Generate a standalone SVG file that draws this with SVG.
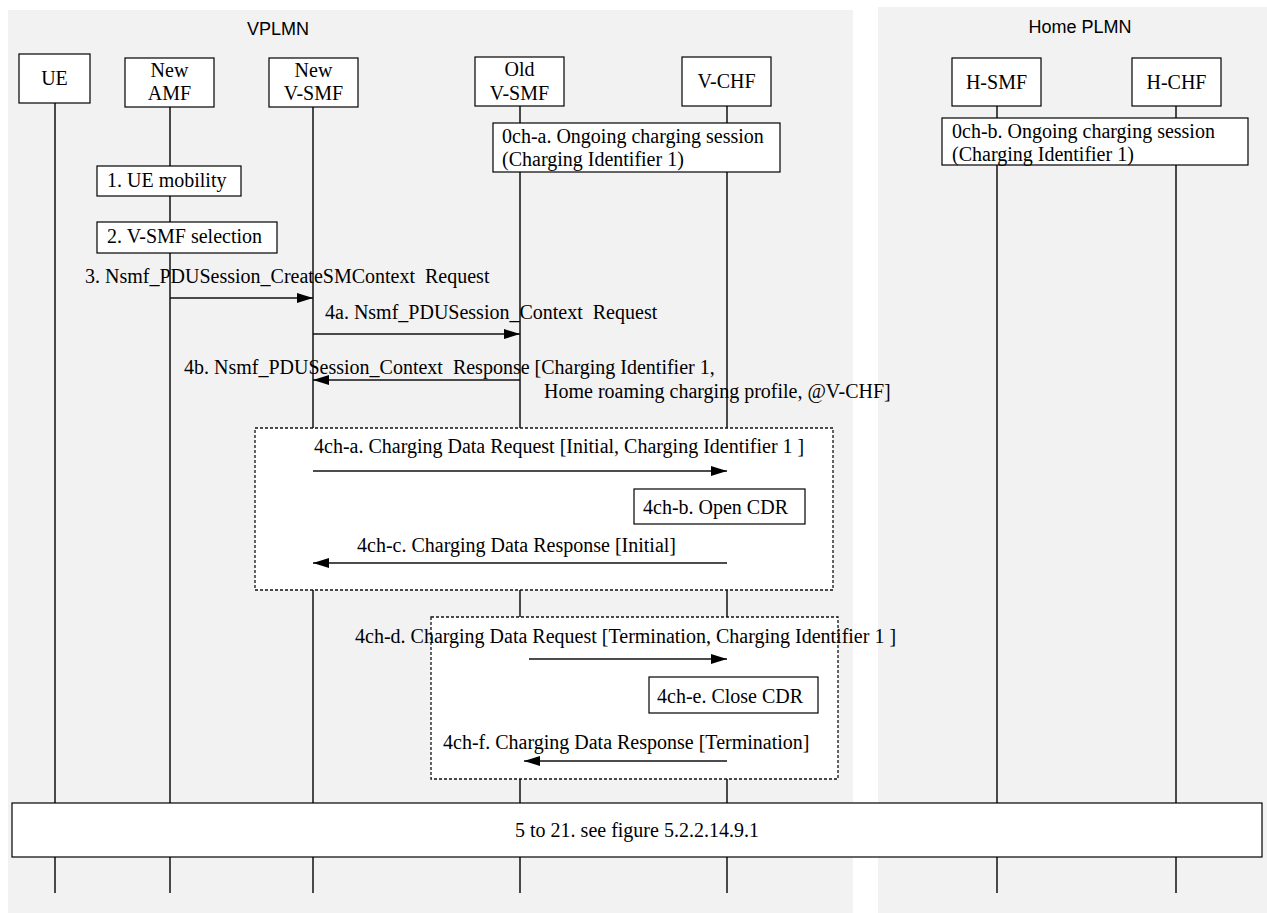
<svg xmlns="http://www.w3.org/2000/svg" width="1267" height="913" viewBox="0 0 1267 913">
<defs>
<style>
.bg{fill:#f2f2f2;stroke:none}
.hdr{font-family:"Liberation Sans",Arial,sans-serif;font-size:18px;fill:#000;text-anchor:middle}
.t{font-family:"Liberation Serif","Times New Roman",serif;font-size:20px;fill:#000;white-space:pre}
.c{text-anchor:middle}
.box{fill:#fff;stroke:#000;stroke-width:1.2}
.frag{fill:#fff;stroke:#111;stroke-width:1.3;stroke-dasharray:3 2}
.life{stroke:#111;stroke-width:1.5;fill:none}
.msg{stroke:#111;stroke-width:1.3;fill:none;marker-end:url(#arr)}
</style>
<marker id="arr" viewBox="0 0 16 10" refX="16" refY="5" markerWidth="16" markerHeight="10" orient="auto" markerUnits="userSpaceOnUse">
<path d="M0,0 L16,5 L0,10 z" fill="#000"/>
</marker>
</defs>
<rect width="1267" height="913" fill="#fff"/>
<g id="vplmn">
<rect class="bg" x="8" y="10" width="845" height="903"/>
<text class="hdr" x="278" y="35">VPLMN</text>
</g>
<g id="hplmn">
<rect class="bg" x="878" y="7" width="389" height="906"/>
<text class="hdr" x="1080" y="33">Home PLMN</text>
</g>
<g id="ue">
<line class="life" x1="55" y1="103" x2="55" y2="893"/>
<rect class="box" x="19" y="54" width="71" height="49"/>
<text class="t c" x="54.5" y="85">UE</text>
</g>
<g id="new-amf">
<line class="life" x1="170" y1="107" x2="170" y2="893"/>
<rect class="box" x="125" y="58" width="89" height="49"/>
<text class="t c" x="169.5" y="77">New</text>
<text class="t c" x="169.5" y="100">AMF</text>
</g>
<g id="new-vsmf">
<line class="life" x1="313" y1="107" x2="313" y2="893"/>
<rect class="box" x="269" y="58" width="89" height="49"/>
<text class="t c" x="313.5" y="77">New</text>
<text class="t c" x="313.5" y="100">V-SMF</text>
</g>
<g id="old-vsmf">
<line class="life" x1="520" y1="106" x2="520" y2="893"/>
<rect class="box" x="475" y="57" width="89" height="49"/>
<text class="t c" x="519.5" y="76">Old</text>
<text class="t c" x="519.5" y="100">V-SMF</text>
</g>
<g id="v-chf">
<line class="life" x1="727" y1="106" x2="727" y2="893"/>
<rect class="box" x="682" y="57" width="89" height="49"/>
<text class="t c" x="726.5" y="88">V-CHF</text>
</g>
<g id="h-smf">
<line class="life" x1="997" y1="106" x2="997" y2="893"/>
<rect class="box" x="952" y="58" width="89" height="48"/>
<text class="t c" x="996.5" y="89">H-SMF</text>
</g>
<g id="h-chf">
<line class="life" x1="1176" y1="106" x2="1176" y2="893"/>
<rect class="box" x="1132" y="58" width="89" height="48"/>
<text class="t c" x="1176.5" y="89">H-CHF</text>
</g>
<g id="note-0ch-a">
<rect class="box" x="493" y="123" width="287" height="49"/>
<text class="t" x="502" y="143">0ch-a. Ongoing charging session</text>
<text class="t" x="502" y="166">(Charging Identifier 1)</text>
</g>
<g id="note-0ch-b">
<rect class="box" x="942" y="118" width="306" height="47"/>
<text class="t" x="952" y="138">0ch-b. Ongoing charging session</text>
<text class="t" x="952" y="161">(Charging Identifier 1)</text>
</g>
<g id="note-1">
<rect class="box" x="97" y="166" width="144" height="30"/>
<text class="t" x="107" y="187">1. UE mobility</text>
</g>
<g id="note-2">
<rect class="box" x="97" y="222" width="180" height="31"/>
<text class="t" x="107" y="243">2. V-SMF selection</text>
</g>
<g id="frag-1">
<rect class="frag" x="255" y="428" width="578" height="162"/>
</g>
<g id="note-4ch-b">
<rect class="box" x="634" y="489" width="171" height="35"/>
<text class="t" x="643" y="514">4ch-b. Open CDR</text>
</g>
<g id="frag-2">
<rect class="frag" x="431" y="617" width="407" height="162"/>
</g>
<g id="note-4ch-e">
<rect class="box" x="649" y="677" width="169" height="36"/>
<text class="t" x="657" y="703">4ch-e. Close CDR</text>
</g>
<g id="note-5-21">
<rect class="box" x="12" y="803" width="1250" height="54"/>
<text class="t c" x="637" y="837">5 to 21. see figure 5.2.2.14.9.1</text>
</g>
<g id="connectors">
<line class="msg" x1="170" y1="298" x2="313" y2="298"/>
<text class="t" x="85" y="283">3. Nsmf_PDUSession_CreateSMContext  Request</text>
<line class="msg" x1="313" y1="334" x2="520" y2="334"/>
<text class="t" x="325" y="319">4a. Nsmf_PDUSession_Context  Request</text>
<line class="msg" x1="520" y1="380" x2="313" y2="380"/>
<text class="t" x="184" y="374">4b. Nsmf_PDUSession_Context  Response [Charging Identifier 1,</text>
<text class="t" x="544" y="398">Home roaming charging profile, @V-CHF]</text>
<line class="msg" x1="313" y1="471" x2="727" y2="471"/>
<text class="t" x="314" y="453">4ch-a. Charging Data Request [Initial, Charging Identifier 1 ]</text>
<line class="msg" x1="727" y1="563" x2="313" y2="563"/>
<text class="t" x="357" y="552">4ch-c. Charging Data Response [Initial]</text>
<line class="msg" x1="529" y1="659" x2="727" y2="659"/>
<text class="t" x="355" y="643">4ch-d. Charging Data Request [Termination, Charging Identifier 1 ]</text>
<line class="msg" x1="727" y1="761" x2="524" y2="761"/>
<text class="t" x="443" y="749">4ch-f. Charging Data Response [Termination]</text>
</g>
</svg>
